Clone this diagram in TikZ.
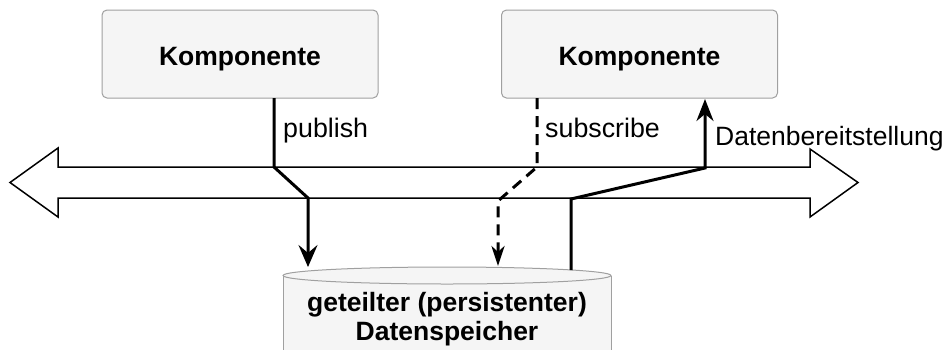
\documentclass[tikz,border=0pt]{standalone}
\usepackage{fontspec}
\setmainfont{Liberation Sans}
\usetikzlibrary{arrows.meta}
\definecolor{boxfill}{HTML}{F5F5F5}
\definecolor{boxline}{HTML}{A0A0A0}
\tikzset{
  comp/.style={draw=boxline, fill=boxfill, rounded corners=5pt, line width=1pt,
    minimum width=276pt, minimum height=88pt, inner sep=0pt,
    text height=22pt, text depth=0pt,
    font=\bfseries\fontsize{26.5}{30}\selectfont},
  lbl/.style={font=\fontsize{26.8}{30}\selectfont, anchor=base west, inner sep=0pt},
  dbtext/.style={font=\bfseries\fontsize{26.5}{29}\selectfont, align=center, inner sep=0pt},
  band/.style={draw=black, fill=white, line width=1.5pt, line join=miter},
  conn/.style={line width=3pt, line join=miter},
  bigtip/.style={-{Stealth[length=22pt,width=19pt,inset=8pt]}},
  smalltip/.style={-{Stealth[length=20pt,width=13pt,inset=6pt]}},
  dashconn/.style={conn, dash pattern=on 11pt off 7pt}
}
\begin{document}
\begin{tikzpicture}[x=1pt,y=-1pt]
\clip (0,0) rectangle (946,349);
\fill[white] (0,0) rectangle (946,349);
% boxes
\node[comp] (k1) at (240,54) {Komponente};
\node[comp] (k2) at (639.5,54) {Komponente};
% band arrow
\draw[band] (10,182.5) -- (58,148) -- (58,167) -- (810,167) -- (810,149)
  -- (858,182.5) -- (810,217) -- (810,198) -- (58,198) -- (58,217) -- cycle;
% cylinder
\filldraw[fill=boxfill, draw=boxline, line width=1pt]
  (283,275.5) -- (283,360) -- (611,360) -- (611,275.5);
\filldraw[fill=boxfill, draw=boxline, line width=1pt] (447,275.5) ellipse [x radius=164, y radius=8.5];
\node[dbtext] (db) at (447,319) {geteilter (persistenter)\\Datenspeicher};
% coordinates
\coordinate (p0) at (274,98);
\coordinate (p1) at (274,167);
\coordinate (p2) at (308,198);
\coordinate (p3) at (308,267);
\coordinate (s0) at (537,98);
\coordinate (s1) at (537,167);
\coordinate (s2) at (498,201);
\coordinate (s3) at (498,266);
\coordinate (d0) at (571,270);
\coordinate (d1) at (571,199);
\coordinate (d2) at (705,168);
\coordinate (d3) at (705,99);
% connectors
\draw[conn, bigtip] (p0) -- (p1) -- (p2) -- (p3);
\draw[dashconn, smalltip] (s0) -- (s1) -- (s2) -- (s3);
\draw[conn, -{Stealth[length=22pt,width=17pt,inset=7pt]}] (d0) -- (d1) -- (d2) -- (d3);
% labels
\node[lbl] (lpub) at (283,137) {publish};
\node[lbl] (lsub) at (545,137) {subscribe};
\node[lbl, font=\fontsize{26.5}{30}\selectfont] (ldat) at (715,145) {Datenbereitstellung};
\end{tikzpicture}
\end{document}
